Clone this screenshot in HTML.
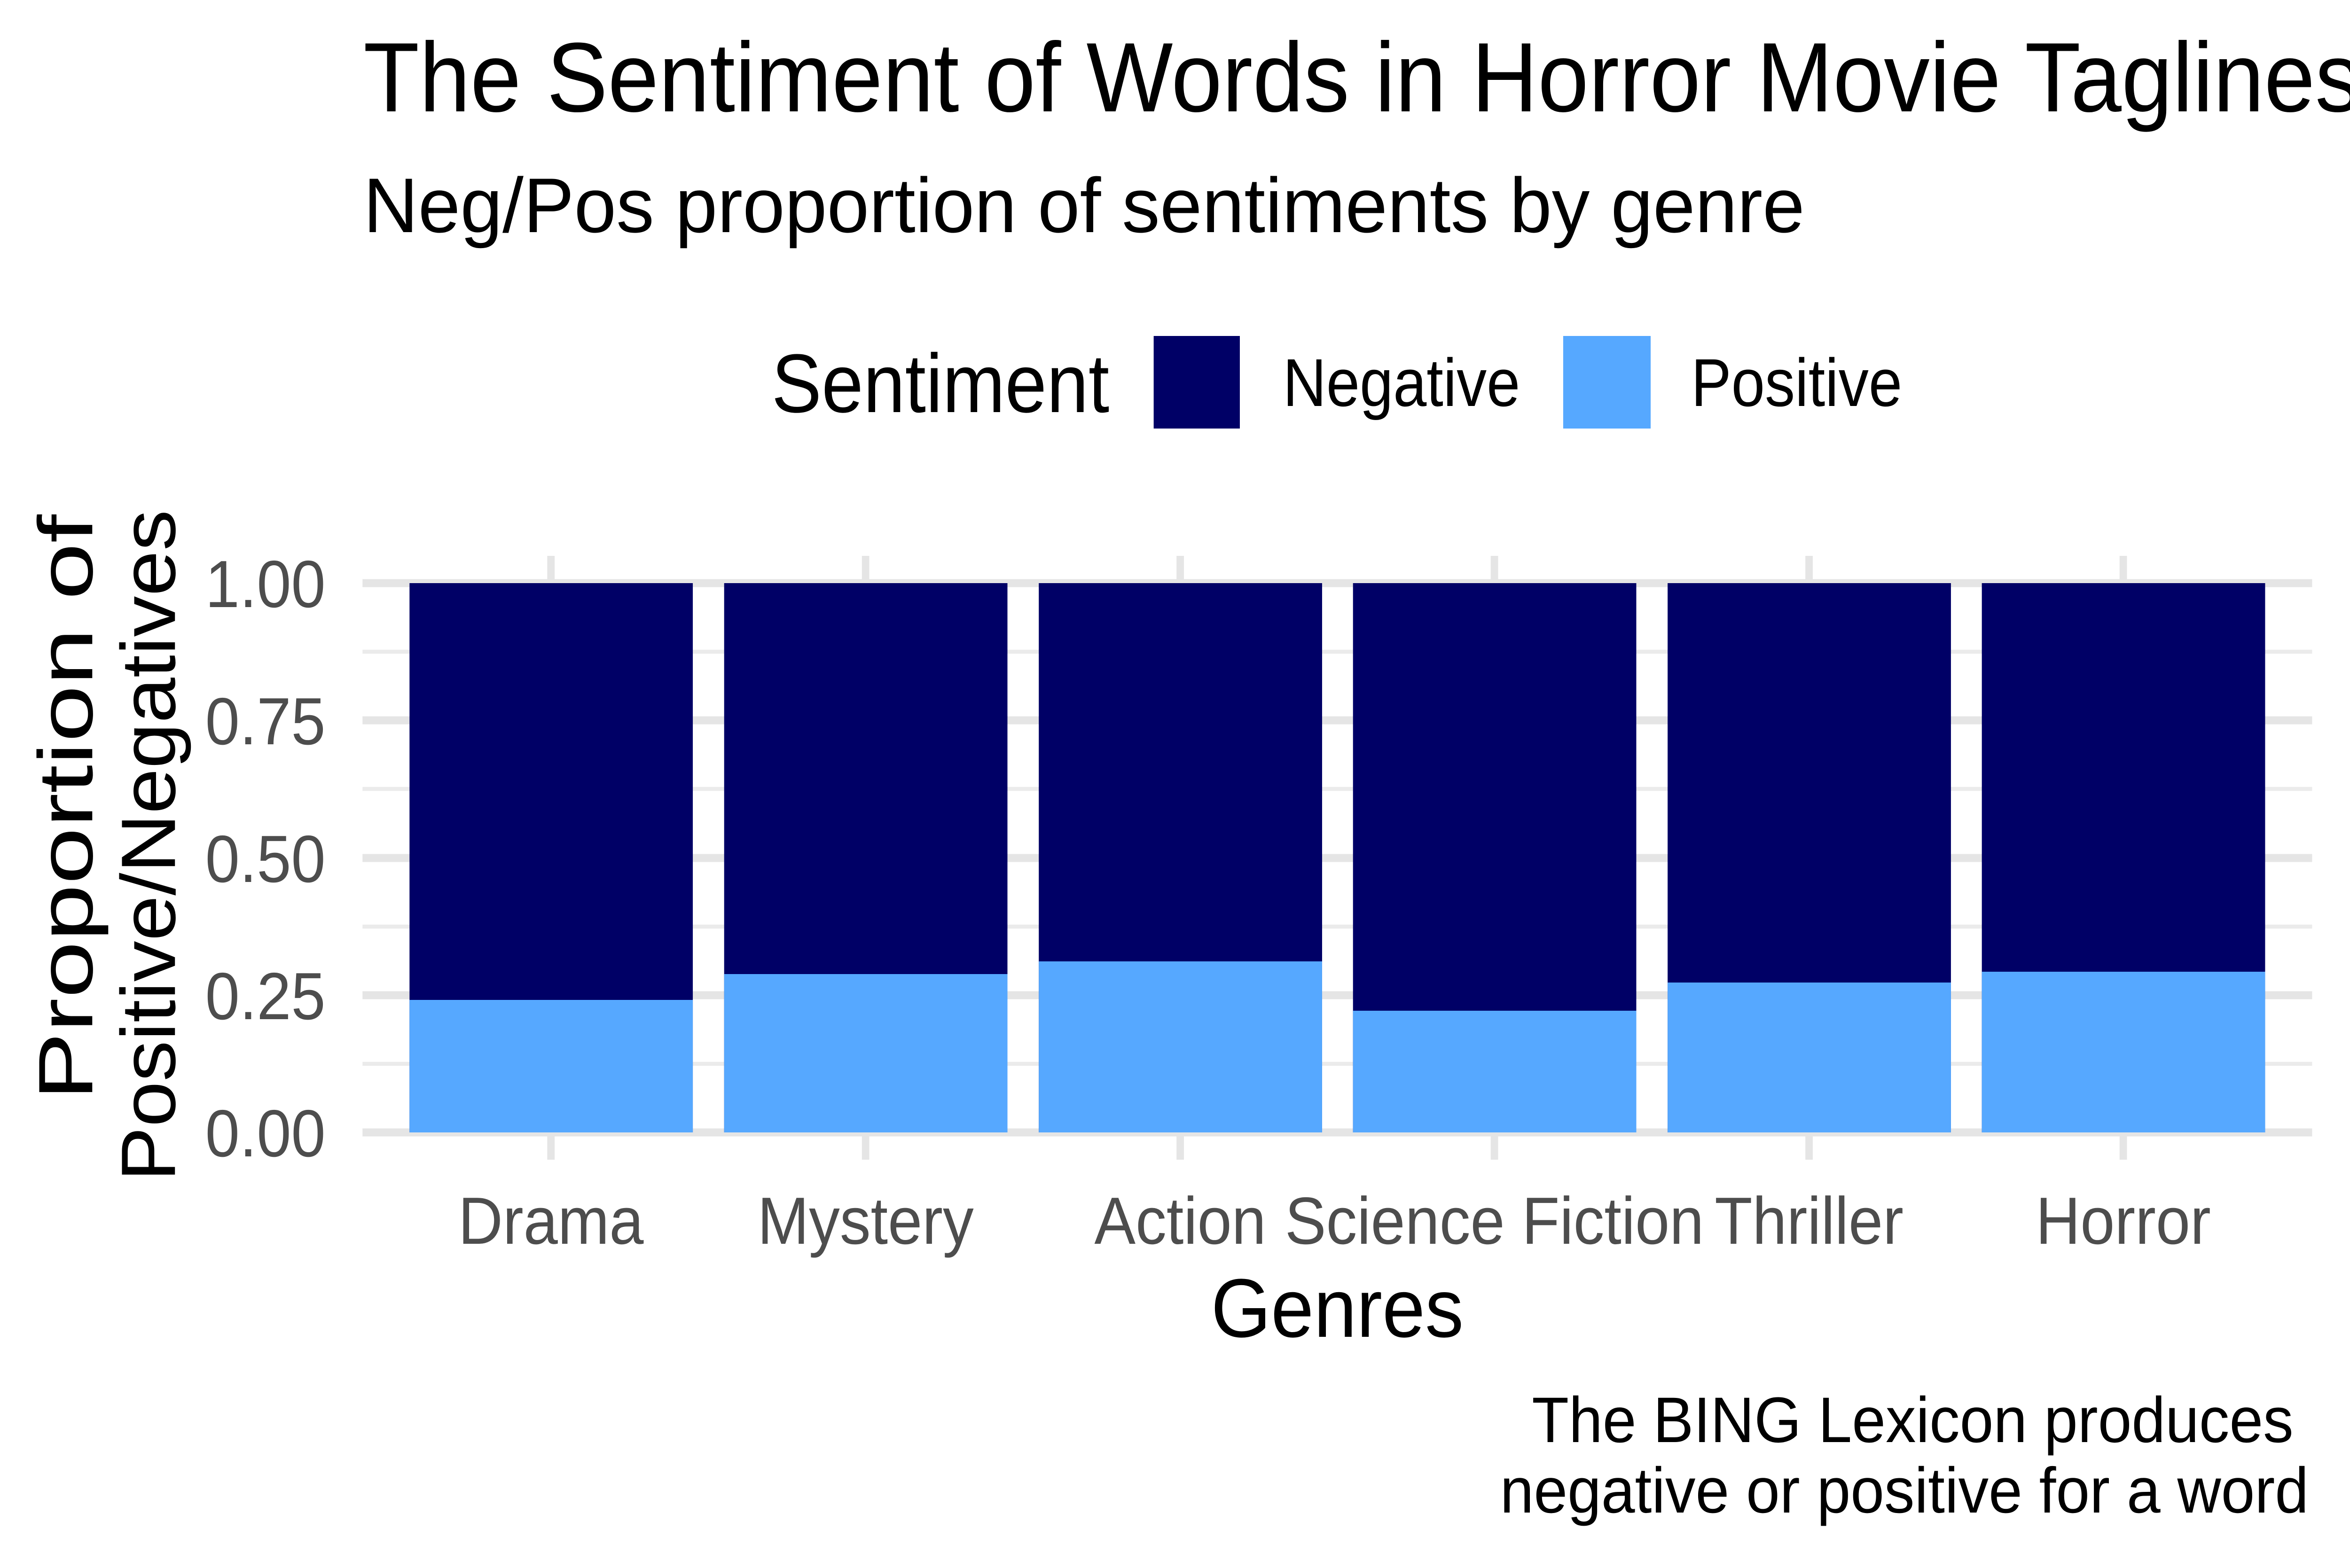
<!DOCTYPE html>
<html><head><meta charset="utf-8"><style>html,body{margin:0;padding:0;background:#fff;overflow:hidden;width:100%;height:100%}svg{display:block;width:100vw;height:100vh}</style></head>
<body>
<svg viewBox="0 0 5400 3337" preserveAspectRatio="none" xmlns="http://www.w3.org/2000/svg" font-family="Liberation Sans, Arial, sans-serif">
<rect width="5400" height="3337" fill="#fff"/>
<g stroke="#ebebeb" stroke-width="8.5">
<line x1="833" x2="5313" y1="2264" y2="2264"/>
<line x1="833" x2="5313" y1="1972" y2="1972"/>
<line x1="833" x2="5313" y1="1679" y2="1679"/>
<line x1="833" x2="5313" y1="1387" y2="1387"/>
</g>
<g stroke="#e5e5e5" stroke-width="17">
<line x1="833" x2="5313" y1="2410" y2="2410"/>
<line x1="833" x2="5313" y1="2118" y2="2118"/>
<line x1="833" x2="5313" y1="1826" y2="1826"/>
<line x1="833" x2="5313" y1="1533" y2="1533"/>
<line x1="833" x2="5313" y1="1241" y2="1241"/>
<line x1="1266" x2="1266" y1="1183" y2="2468"/>
<line x1="1989" x2="1989" y1="1183" y2="2468"/>
<line x1="2712" x2="2712" y1="1183" y2="2468"/>
<line x1="3434" x2="3434" y1="1183" y2="2468"/>
<line x1="4157" x2="4157" y1="1183" y2="2468"/>
<line x1="4879" x2="4879" y1="1183" y2="2468"/>
</g>
<g>
<rect x="941" y="1241" width="651" height="1169" fill="#000066"/>
<rect x="941" y="2128" width="651" height="282" fill="#56a8ff"/>
<rect x="1664" y="1241" width="651" height="1169" fill="#000066"/>
<rect x="1664" y="2073" width="651" height="337" fill="#56a8ff"/>
<rect x="2387" y="1241" width="651" height="1169" fill="#000066"/>
<rect x="2387" y="2046" width="651" height="364" fill="#56a8ff"/>
<rect x="3109" y="1241" width="651" height="1169" fill="#000066"/>
<rect x="3109" y="2151" width="651" height="259" fill="#56a8ff"/>
<rect x="3832" y="1241" width="651" height="1169" fill="#000066"/>
<rect x="3832" y="2091" width="651" height="319" fill="#56a8ff"/>
<rect x="4554" y="1241" width="651" height="1169" fill="#000066"/>
<rect x="4554" y="2068" width="651" height="342" fill="#56a8ff"/>
</g>
<g fill="#4d4d4d" font-size="142" text-anchor="end">
<text x="748" y="1292">1.00</text>
<text x="748" y="1584">0.75</text>
<text x="748" y="1877">0.50</text>
<text x="748" y="2169">0.25</text>
<text x="748" y="2461">0.00</text>
</g>
<g fill="#4d4d4d" font-size="142" text-anchor="middle">
<text x="1266" y="2647">Drama</text>
<text x="1989" y="2647">Mystery</text>
<text x="2712" y="2647">Action</text>
<text x="3434" y="2647">Science Fiction</text>
<text x="4157" y="2647">Thriller</text>
<text x="4879" y="2647">Horror</text>
</g>
<text x="3073" y="2845" font-size="177" text-anchor="middle" fill="#000">Genres</text>
<text transform="translate(212,2342) rotate(-90)" font-size="177" fill="#000" textLength="1247" lengthAdjust="spacingAndGlyphs">Proportion of</text>
<text transform="translate(402,2514) rotate(-90)" font-size="177" fill="#000" textLength="1429" lengthAdjust="spacingAndGlyphs">Positive/Negatives</text>
<text x="835" y="237" font-size="210" fill="#000" textLength="4590" lengthAdjust="spacingAndGlyphs">The Sentiment of Words in Horror Movie Taglines</text>
<text x="835" y="494" font-size="165" fill="#000" textLength="3312" lengthAdjust="spacingAndGlyphs">Neg/Pos proportion of sentiments by genre</text>
<text x="1773" y="877" font-size="177" fill="#000" textLength="776" lengthAdjust="spacingAndGlyphs">Sentiment</text>
<rect x="2651" y="715" width="198" height="197" fill="#000066"/>
<text x="2948" y="864" font-size="144" fill="#000" textLength="545" lengthAdjust="spacingAndGlyphs">Negative</text>
<rect x="3592" y="715" width="201" height="197" fill="#56a8ff"/>
<text x="3886" y="864" font-size="144" fill="#000" textLength="485" lengthAdjust="spacingAndGlyphs">Positive</text>
<text x="3520" y="3069" font-size="137" fill="#000" textLength="1750" lengthAdjust="spacingAndGlyphs">The BING Lexicon produces</text>
<text x="3447" y="3219" font-size="137" fill="#000" textLength="1858" lengthAdjust="spacingAndGlyphs">negative or positive for a word</text>
</svg>
</body></html>
